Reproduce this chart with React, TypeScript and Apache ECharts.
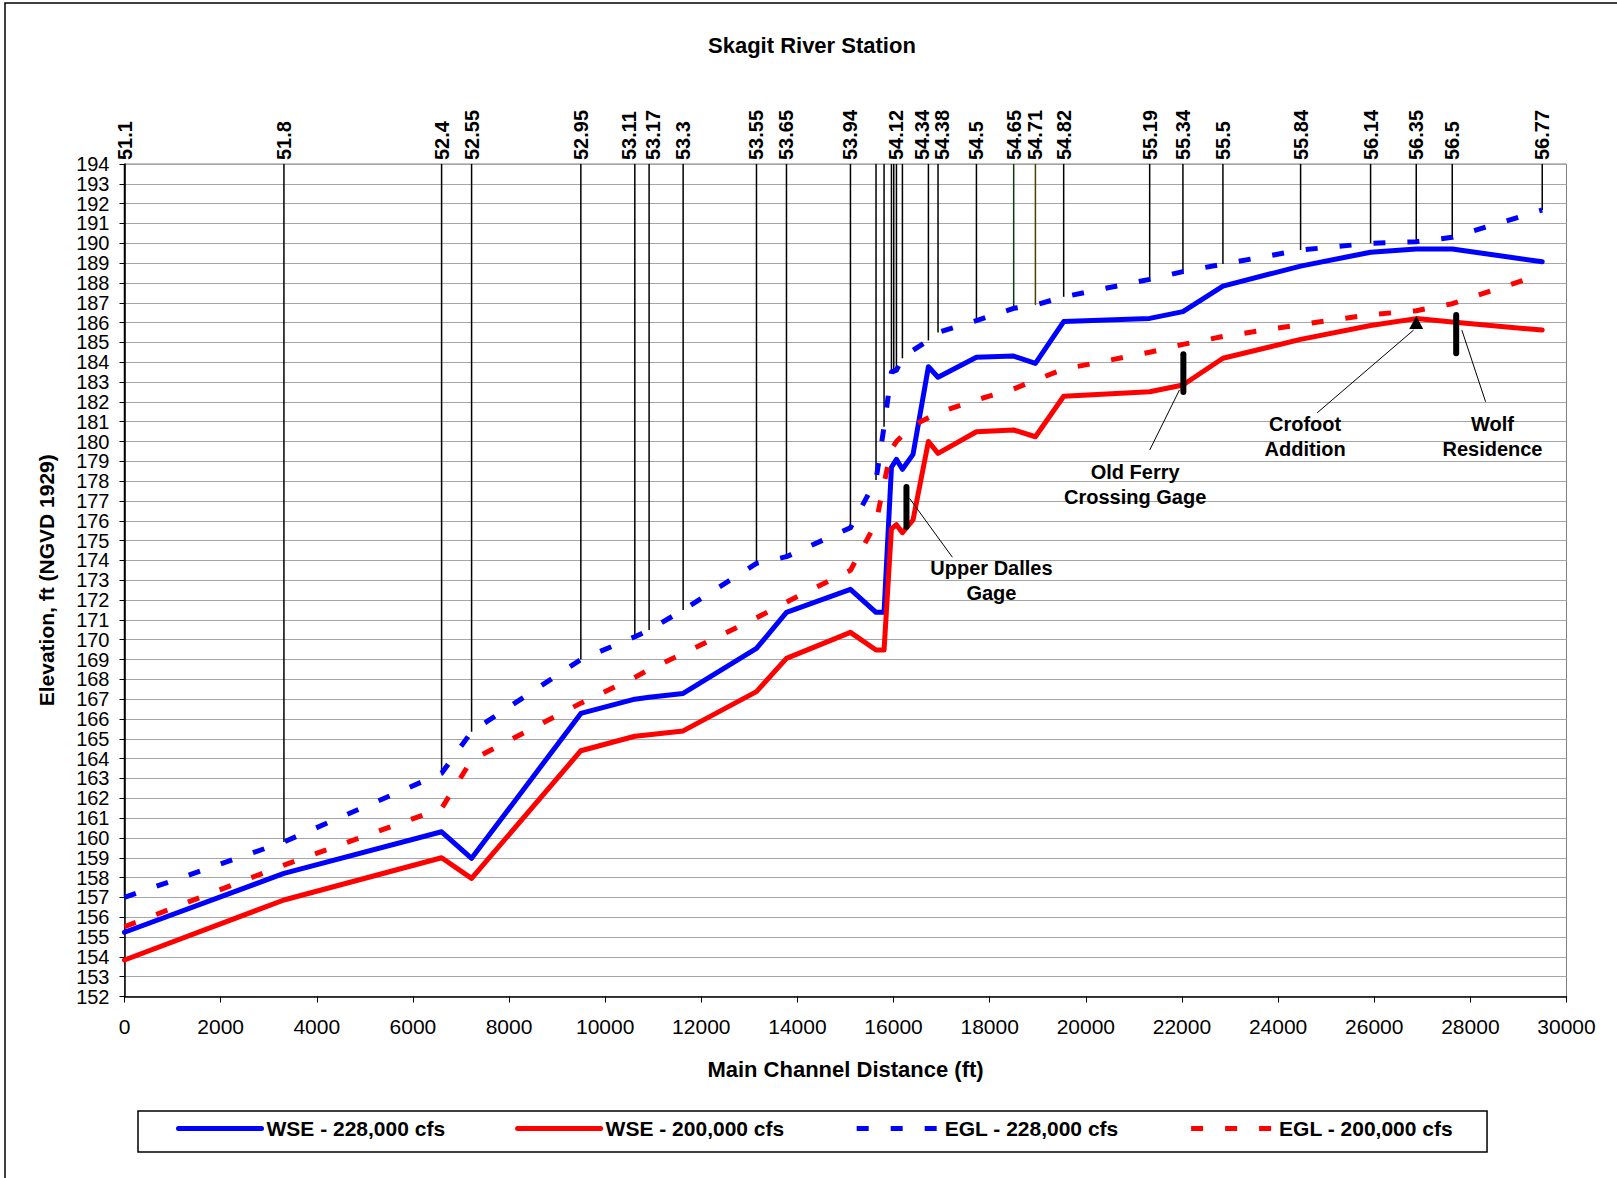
import React, { useEffect, useRef } from "react";
import * as echarts from "echarts";

const FONT = "'Liberation Sans', Arial, Helvetica, sans-serif";

// Main channel distance (ft) of computed cross sections
const distance = [0, 3317, 6597, 7221, 9494, 10617, 10914, 11622, 13148, 13772, 15103, 15635, 15802, 15956, 16060, 16184, 16405, 16725, 16925, 17724, 18499, 18951, 19539, 21328, 22020, 22852, 24468, 25924, 26874, 27623, 29495];
const wse228 = [155.24, 158.21, 160.31, 158.97, 166.28, 167.0, 167.1, 167.29, 169.56, 171.38, 172.54, 171.38, 171.38, 178.7, 179.1, 178.6, 179.35, 183.77, 183.24, 184.25, 184.31, 183.94, 186.05, 186.21, 186.55, 187.84, 188.85, 189.55, 189.71, 189.71, 189.07];
const wse200 = [153.84, 156.87, 159.0, 157.96, 164.4, 165.13, 165.2, 165.4, 167.38, 169.06, 170.37, 169.48, 169.48, 175.6, 175.8, 175.4, 176.04, 180.0, 179.4, 180.49, 180.58, 180.24, 182.28, 182.51, 182.85, 184.2, 185.15, 185.85, 186.2, 186.03, 185.62];
const egl228 = [157.0, 159.8, 163.26, 165.36, 169.0, 170.15, 170.49, 171.5, 173.85, 174.19, 175.65, 178.06, 180.75, 183.5, 183.6, 184.2, 184.6, 185.1, 185.5, 186.1, 186.72, 186.89, 187.3, 188.18, 188.57, 188.95, 189.66, 190.0, 190.08, 190.3, 191.68];
const egl200 = [155.52, 158.63, 161.49, 163.93, 166.8, 168.1, 168.5, 169.3, 171.1, 171.9, 173.5, 175.9, 177.9, 179.6, 180.0, 180.3, 180.8, 181.2, 181.45, 182.1, 182.65, 183.1, 183.65, 184.5, 184.9, 185.3, 185.9, 186.4, 186.6, 186.95, 188.45];

const seriesNames = ["WSE - 228,000 cfs", "WSE - 200,000 cfs", "EGL - 228,000 cfs", "EGL - 200,000 cfs"];

// River station marker lines
const stationDist = [0, 3317, 6597, 7221, 9494, 10617, 10914, 11622, 13148, 13772, 15103, 15635, 15802, 15956, 16004, 16060, 16184, 16725, 16925, 17724, 18499, 18951, 19539, 21328, 22020, 22852, 24468, 25924, 26874, 27623, 29495];
const stationEnd = [157.0, 159.8, 163.26, 165.36, 169.0, 170.15, 170.49, 171.5, 173.85, 174.19, 175.65, 178.06, 180.75, 183.6, 183.6, 183.6, 184.2, 185.1, 185.5, 186.1, 186.72, 186.89, 187.3, 188.18, 188.57, 188.95, 189.66, 190.0, 190.08, 190.3, 191.68];
const stationLabels = ["51.1", "51.8", "52.4", "52.55", "52.95", "53.11", "53.17", "53.3", "53.55", "53.65", "53.94", "", "", "", "", "54.12", "", "54.34", "54.38", "54.5", "54.65", "54.71", "54.82", "55.19", "55.34", "55.5", "55.84", "56.14", "56.35", "56.5", "56.77"];
const stationColors = stationLabels.map((l) => (l === "54.65" ? "#0b3d0b" : l === "54.71" ? "#4a4000" : "#000000"));
// label nudges (px) so crowded labels do not overlap, as in the original
const labelNudge: Record<string, number> = { "53.11": -6, "53.17": 4, "54.34": -6, "54.38": 4 };

// Gage bars
const gageDist = [16268, 22029, 27705];
const gageLow = [175.7, 182.5, 184.45];
const gageHigh = [177.7, 184.4, 186.38];

// Crofoot Addition marker
const crofootDist = [26874];
const crofootElev = [186.0];

// Annotation callouts
const annoText = ["Upper Dalles\nGage", "Old Ferry\nCrossing Gage", "Crofoot\nAddition", "Wolf\nResidence"];
const annoTextX = [18036, 21026, 24562, 28460];
const annoTextY = [172.97, 177.83, 180.25, 180.25];
const leaderFromX = [16333, 21948, 26818, 27823];
const leaderFromY = [177.13, 182.6, 185.62, 185.62];
const leaderToX = [17224, 21329, 24814, 28316];
const leaderToY = [174.16, 179.57, 181.45, 182.01];

export default function App() {
  const ref = useRef<HTMLDivElement>(null);

  useEffect(() => {
    if (!ref.current) return;
    const chart = echarts.init(ref.current, null, { renderer: "svg" });

    const pairs = (ys: number[]) => distance.map((d, i) => [d, ys[i]]);
    const solid = (name: string, ys: number[], color: string) => ({
      name,
      type: "line",
      data: pairs(ys),
      symbol: "none",
      showSymbol: false,
      z: 3,
      lineStyle: { color, width: 5, type: "solid", join: "round", cap: "round" },
      itemStyle: { color },
    });
    const dashed = (name: string, ys: number[], color: string) => ({
      name,
      type: "line",
      data: pairs(ys),
      symbol: "none",
      showSymbol: false,
      z: 3,
      lineStyle: { color, width: 5, type: [12, 22], cap: "butt", join: "round" },
      itemStyle: { color },
    });

    const option: any = {
      animation: false,
      backgroundColor: "#ffffff",
      title: {
        text: "Skagit River Station",
        left: 703,
        top: 29,
        textStyle: { fontFamily: FONT, fontSize: 22, fontWeight: "bold", color: "#000" },
      },
      graphic: [
        {
          type: "rect",
          shape: { x: 5, y: 3, width: 1700, height: 1300 },
          style: { fill: "none", stroke: "#000", lineWidth: 1.5 },
          silent: true,
          z: -10,
        },
      ],
      legend: {
        data: seriesNames,
        left: 138,
        top: 1111,
        orient: "horizontal",
        itemWidth: 83,
        itemHeight: 14,
        itemGap: 70,
        padding: [7, 34, 13, 38],
        borderColor: "#000",
        borderWidth: 1.5,
        textStyle: { fontFamily: FONT, fontSize: 21, fontWeight: "bold", color: "#000" },
        lineStyle: { width: 5 },
        itemStyle: { opacity: 0 },
      },
      grid: {
        left: 124.5,
        right: 50.5,
        top: 164,
        bottom: 181.5,
        show: true,
        borderColor: "#808080",
        borderWidth: 1,
        containLabel: false,
      },
      xAxis: {
        type: "value",
        min: 0,
        max: 30000,
        interval: 2000,
        name: "Main Channel Distance (ft)",
        nameLocation: "middle",
        nameGap: 62,
        nameTextStyle: { fontFamily: FONT, fontSize: 22, fontWeight: "bold", color: "#000" },
        axisLine: { show: true, lineStyle: { color: "#000", width: 1.5 } },
        axisTick: { show: true, length: 6, lineStyle: { color: "#000", width: 1 } },
        axisLabel: {
          margin: 19,
          fontFamily: FONT,
          fontSize: 21,
          color: "#000",
          formatter: (v: number) => String(v),
        },
        splitLine: { show: false },
      },
      yAxis: {
        type: "value",
        min: 152,
        max: 194,
        interval: 1,
        name: "Elevation, ft (NGVD 1929)",
        nameLocation: "middle",
        nameGap: 68,
        nameTextStyle: { fontFamily: FONT, fontSize: 21, fontWeight: "bold", color: "#000" },
        axisLine: { show: true, lineStyle: { color: "#000", width: 1.5 } },
        axisTick: { show: true, length: 5, lineStyle: { color: "#000", width: 1 } },
        axisLabel: { margin: 15, fontFamily: FONT, fontSize: 20, color: "#000" },
        splitLine: { show: true, lineStyle: { color: "#a6a6a6", width: 1 } },
      },
      series: [
        {
          name: "stations",
          type: "custom",
          z: 1,
          silent: true,
          clip: false,
          data: stationDist.map((d, i) => [d, stationEnd[i]]),
          encode: { x: 0, y: 1 },
          renderItem: (params: any, api: any) => {
            const x = api.value(0);
            const yEnd = api.value(1);
            const p1 = api.coord([x, yEnd]);
            const p2 = api.coord([x, 194]);
            const i = params.dataIndex;
            const children: any[] = [
              {
                type: "line",
                shape: { x1: p1[0], y1: p1[1], x2: p2[0], y2: p2[1] },
                style: { stroke: stationColors[i], lineWidth: 1.5 },
              },
            ];
            const lab = stationLabels[i];
            if (lab) {
              children.push({
                type: "text",
                x: p2[0] + (labelNudge[lab] || 0),
                y: p2[1] - 4,
                rotation: Math.PI / 2,
                style: {
                  text: lab,
                  font: `bold 20px ${FONT}`,
                  fill: "#000",
                  align: "left",
                  verticalAlign: "middle",
                },
              });
            }
            return { type: "group", children };
          },
        },
        solid(seriesNames[0], wse228, "#0000ff"),
        solid(seriesNames[1], wse200, "#ff0000"),
        dashed(seriesNames[2], egl228, "#0000ff"),
        dashed(seriesNames[3], egl200, "#ff0000"),
        {
          name: "gages",
          type: "custom",
          z: 5,
          silent: true,
          data: gageDist.map((d, i) => [d, gageLow[i], gageHigh[i]]),
          encode: { x: 0, y: [1, 2] },
          renderItem: (params: any, api: any) => {
            const a = api.coord([api.value(0), api.value(1)]);
            const b = api.coord([api.value(0), api.value(2)]);
            return {
              type: "line",
              shape: { x1: a[0], y1: a[1], x2: b[0], y2: b[1] },
              style: { stroke: "#000", lineWidth: 6, lineCap: "round" },
            };
          },
        },
        {
          name: "Crofoot marker",
          type: "scatter",
          z: 6,
          silent: true,
          symbol: "triangle",
          symbolSize: [14, 13],
          itemStyle: { color: "#000", opacity: 1 },
          data: crofootDist.map((d, i) => [d, crofootElev[i]]),
        },
        {
          name: "annotations",
          type: "custom",
          z: 6,
          silent: true,
          clip: false,
          data: annoText.map((t, i) => [annoTextX[i], annoTextY[i], leaderFromX[i], leaderFromY[i], leaderToX[i], leaderToY[i]]),
          encode: { x: [0, 2, 4], y: [1, 3, 5] },
          renderItem: (params: any, api: any) => {
            const i = params.dataIndex;
            const t = api.coord([api.value(0), api.value(1)]);
            const a = api.coord([api.value(2), api.value(3)]);
            const b = api.coord([api.value(4), api.value(5)]);
            return {
              type: "group",
              children: [
                {
                  type: "line",
                  shape: { x1: a[0], y1: a[1], x2: b[0], y2: b[1] },
                  style: { stroke: "#000", lineWidth: 1 },
                },
                {
                  type: "text",
                  x: t[0],
                  y: t[1],
                  style: {
                    text: annoText[i],
                    font: `bold 20px ${FONT}`,
                    fill: "#000",
                    align: "center",
                    verticalAlign: "middle",
                    lineHeight: 25,
                  },
                },
              ],
            };
          },
        },
      ],
    };

    chart.setOption(option);
    return () => {
      chart.dispose();
    };
  }, []);

  return (
    <div
      ref={ref}
      style={{ position: "fixed", left: 0, top: 0, width: 1617, height: 1178, background: "#fff" }}
    />
  );
}
